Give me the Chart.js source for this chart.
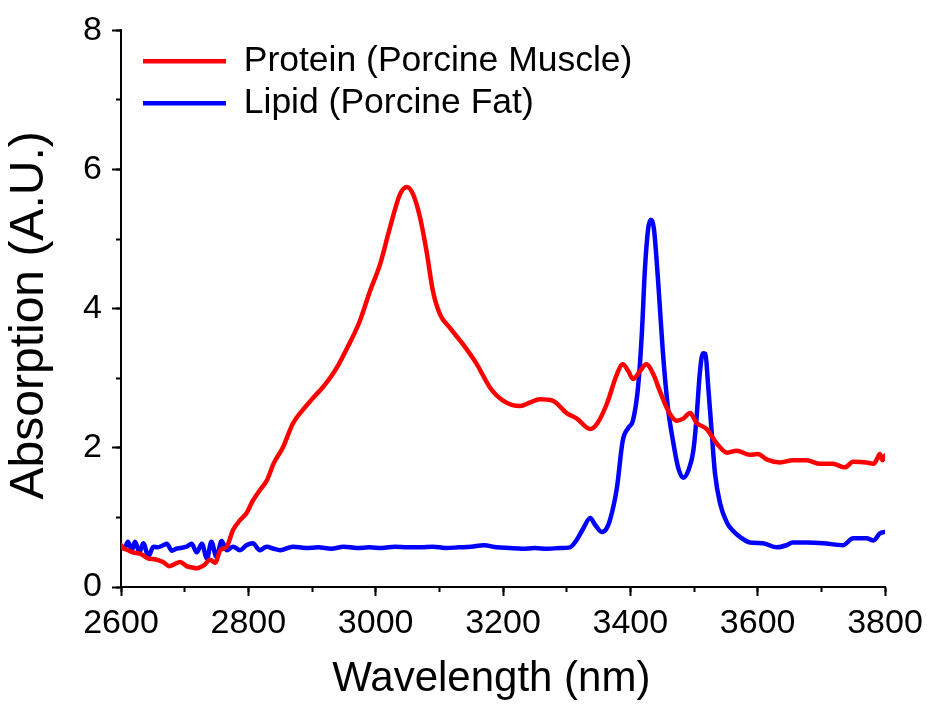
<!DOCTYPE html>
<html>
<head>
<meta charset="utf-8">
<script src="https://cdn.jsdelivr.net/npm/chart.js@4/dist/chart.umd.min.js"></script>
<style>
  html, body { margin: 0; padding: 0; background: #ffffff; }
  canvas { display: block; }
</style>
</head>
<body>
<canvas id="chart" width="927" height="706"></canvas>
<script>
// ---- data ----
const seriesNames = ['Protein (Porcine Muscle)', 'Lipid (Porcine Fat)'];

const proteinWavelengths = [2600, 2605, 2611, 2617, 2630, 2643, 2653, 2666, 2676, 2684, 2693, 2703, 2712, 2719, 2730, 2740, 2748, 2756, 2766, 2776, 2787, 2797, 2807, 2818, 2829, 2840, 2854, 2870, 2886, 2902, 2915, 2928, 2942, 2955, 2975, 2991, 3007, 3022, 3038, 3049, 3059, 3070, 3080, 3090, 3101, 3117, 3137, 3159, 3180, 3200, 3227, 3242, 3258, 3278, 3300, 3316, 3337, 3348, 3363, 3379, 3388, 3397, 3404, 3415, 3425, 3436, 3447, 3462, 3473, 3483, 3494, 3504, 3520, 3536, 3552, 3567, 3588, 3600, 3615, 3635, 3655, 3677, 3698, 3718, 3737, 3750, 3771, 3782, 3788, 3792, 3796, 3800];
const proteinValues = [0.60, 0.55, 0.53, 0.50, 0.48, 0.41, 0.40, 0.36, 0.30, 0.33, 0.36, 0.30, 0.28, 0.27, 0.31, 0.39, 0.35, 0.53, 0.58, 0.82, 0.96, 1.06, 1.24, 1.39, 1.53, 1.78, 2.00, 2.35, 2.55, 2.72, 2.85, 3.00, 3.20, 3.43, 3.82, 4.25, 4.64, 5.15, 5.64, 5.75, 5.64, 5.30, 4.82, 4.25, 3.92, 3.72, 3.49, 3.20, 2.86, 2.68, 2.60, 2.65, 2.70, 2.68, 2.50, 2.42, 2.27, 2.35, 2.63, 3.06, 3.20, 3.10, 2.99, 3.10, 3.20, 3.06, 2.80, 2.49, 2.39, 2.42, 2.50, 2.36, 2.27, 2.06, 1.93, 1.96, 1.90, 1.91, 1.83, 1.79, 1.82, 1.82, 1.77, 1.77, 1.72, 1.80, 1.79, 1.77, 1.85, 1.91, 1.82, 1.89];

const lipidWavelengths = [2600, 2605, 2611, 2617, 2622, 2629, 2635, 2643, 2651, 2658, 2666, 2672, 2680, 2687, 2693, 2703, 2711, 2719, 2727, 2735, 2742, 2750, 2758, 2766, 2776, 2787, 2797, 2807, 2818, 2829, 2840, 2850, 2870, 2890, 2910, 2930, 2950, 2970, 2990, 3010, 3030, 3050, 3070, 3090, 3110, 3130, 3150, 3170, 3190, 3210, 3230, 3250, 3270, 3290, 3305, 3316, 3326, 3337, 3345, 3355, 3362, 3368, 3379, 3388, 3397, 3404, 3412, 3418, 3423, 3428, 3432, 3437, 3444, 3451, 3459, 3467, 3475, 3483, 3491, 3499, 3504, 3509, 3514, 3518, 3522, 3528, 3533, 3541, 3552, 3562, 3572, 3588, 3608, 3630, 3645, 3655, 3677, 3703, 3734, 3750, 3771, 3782, 3792, 3800];
const lipidValues = [0.58, 0.55, 0.65, 0.53, 0.65, 0.50, 0.63, 0.44, 0.58, 0.57, 0.60, 0.62, 0.52, 0.55, 0.56, 0.58, 0.62, 0.50, 0.62, 0.41, 0.65, 0.43, 0.66, 0.53, 0.58, 0.53, 0.60, 0.63, 0.53, 0.58, 0.55, 0.53, 0.58, 0.56, 0.57, 0.55, 0.58, 0.56, 0.57, 0.56, 0.58, 0.57, 0.57, 0.58, 0.56, 0.57, 0.58, 0.60, 0.57, 0.56, 0.55, 0.56, 0.55, 0.56, 0.57, 0.68, 0.84, 0.99, 0.89, 0.79, 0.83, 0.96, 1.43, 2.10, 2.29, 2.39, 2.86, 3.63, 4.58, 5.15, 5.28, 5.15, 4.35, 3.39, 2.58, 2.10, 1.72, 1.57, 1.67, 1.96, 2.43, 3.06, 3.36, 3.35, 2.92, 2.20, 1.63, 1.20, 0.92, 0.80, 0.72, 0.64, 0.63, 0.57, 0.60, 0.64, 0.64, 0.63, 0.60, 0.70, 0.70, 0.67, 0.77, 0.79];

const xTickLabels = [2600, 2800, 3000, 3200, 3400, 3600, 3800];
const yTickLabels = [0, 2, 4, 6, 8];

const xTitle = 'Wavelength (nm)';
const yTitle = 'Absorption (A.U.)';

// ---- chart ----
const FONT = "'Liberation Sans', Arial, sans-serif";
const toPoints = (xs, ys) => xs.map((x, i) => ({ x: x, y: ys[i] }));

const legendPlacement = {
  id: 'legendPlacement',
  afterLayout(chart) {
    const lg = chart.legend;
    if (!lg) return;
    const a = chart.chartArea;
    lg.left = a.left + 15.5;
    lg.top = a.top + 6.5;
  }
};

new Chart(document.getElementById('chart'), {
  type: 'line',
  data: {
    datasets: [
      {
        label: seriesNames[0],
        data: toPoints(proteinWavelengths, proteinValues),
        borderColor: '#ff0000',
        backgroundColor: '#ff0000',
        borderWidth: 4.5,
        borderCapStyle: 'round',
        pointRadius: 0,
        cubicInterpolationMode: 'monotone',
        xAxisID: 'x',
        yAxisID: 'y'
      },
      {
        label: seriesNames[1],
        data: toPoints(lipidWavelengths, lipidValues),
        borderColor: '#0000ff',
        backgroundColor: '#0000ff',
        borderWidth: 4.5,
        borderCapStyle: 'round',
        pointRadius: 0,
        cubicInterpolationMode: 'monotone',
        xAxisID: 'x',
        yAxisID: 'y'
      }
    ]
  },
  options: {
    responsive: false,
    animation: false,
    devicePixelRatio: 1,
    layout: { padding: { left: 0, right: 42, top: 27, bottom: 0 } },
    plugins: {
      legend: {
        position: 'chartArea',
        align: 'start',
        labels: {
          usePointStyle: true,
          pointStyle: 'line',
          pointStyleWidth: 83,
          padding: 6.5,
          color: '#000000',
          font: { family: FONT, size: 35.5 }
        }
      },
      tooltip: { enabled: false }
    },
    scales: {
      x: {
        type: 'linear',
        position: 'bottom',
        weight: 1,
        min: xTickLabels[0],
        max: xTickLabels[xTickLabels.length - 1],
        afterBuildTicks: (s) => { s.ticks = xTickLabels.map(v => ({ value: v })); },
        ticks: {
          color: '#000000',
          font: { family: FONT, size: 34 },
          padding: 7,
          maxRotation: 0,
          autoSkip: false,
          callback: (v) => String(v)
        },
        grid: { drawOnChartArea: false, tickLength: 9, tickWidth: 2, tickColor: '#000000' },
        border: { display: true, color: '#000000', width: 2 },
        title: {
          display: true,
          text: xTitle + '\u00a0\u00a0',
          color: '#000000',
          font: { family: FONT, size: 42 },
          padding: { top: 0, bottom: 1 }
        },
        afterFit: (s) => { s.height = 119; s.paddingLeft = 0; s.paddingRight = 0; }
      },
      xMinor: {
        type: 'linear',
        position: 'bottom',
        weight: 0,
        min: xTickLabels[0],
        max: xTickLabels[xTickLabels.length - 1],
        ticks: { display: false, stepSize: 100 },
        grid: { drawOnChartArea: false, tickLength: 5, tickWidth: 2, tickColor: '#000000' },
        border: { display: false },
        afterFit: (s) => { s.height = 0; s.paddingLeft = 0; s.paddingRight = 0; }
      },
      y: {
        type: 'linear',
        position: 'left',
        weight: 1,
        min: yTickLabels[0],
        max: yTickLabels[yTickLabels.length - 1],
        afterBuildTicks: (s) => { s.ticks = yTickLabels.map(v => ({ value: v })); },
        ticks: {
          color: '#000000',
          font: { family: FONT, size: 34 },
          padding: 10,
          callback: (v) => String(v)
        },
        grid: { drawOnChartArea: false, tickLength: 9, tickWidth: 2, tickColor: '#000000' },
        border: { display: true, color: '#000000', width: 2 },
        title: {
          display: true,
          text: yTitle + '\u00a0',
          color: '#000000',
          font: { family: FONT, size: 48 },
          padding: { top: 1, bottom: 0 }
        },
        afterFit: (s) => { s.width = 121; }
      },
      yMinor: {
        type: 'linear',
        position: 'left',
        weight: 0,
        min: yTickLabels[0],
        max: yTickLabels[yTickLabels.length - 1],
        ticks: { display: false, stepSize: 1 },
        grid: { drawOnChartArea: false, tickLength: 5, tickWidth: 2, tickColor: '#000000' },
        border: { display: false },
        afterFit: (s) => { s.width = 0; }
      }
    }
  },
  plugins: [legendPlacement]
});
</script>
</body>
</html>
